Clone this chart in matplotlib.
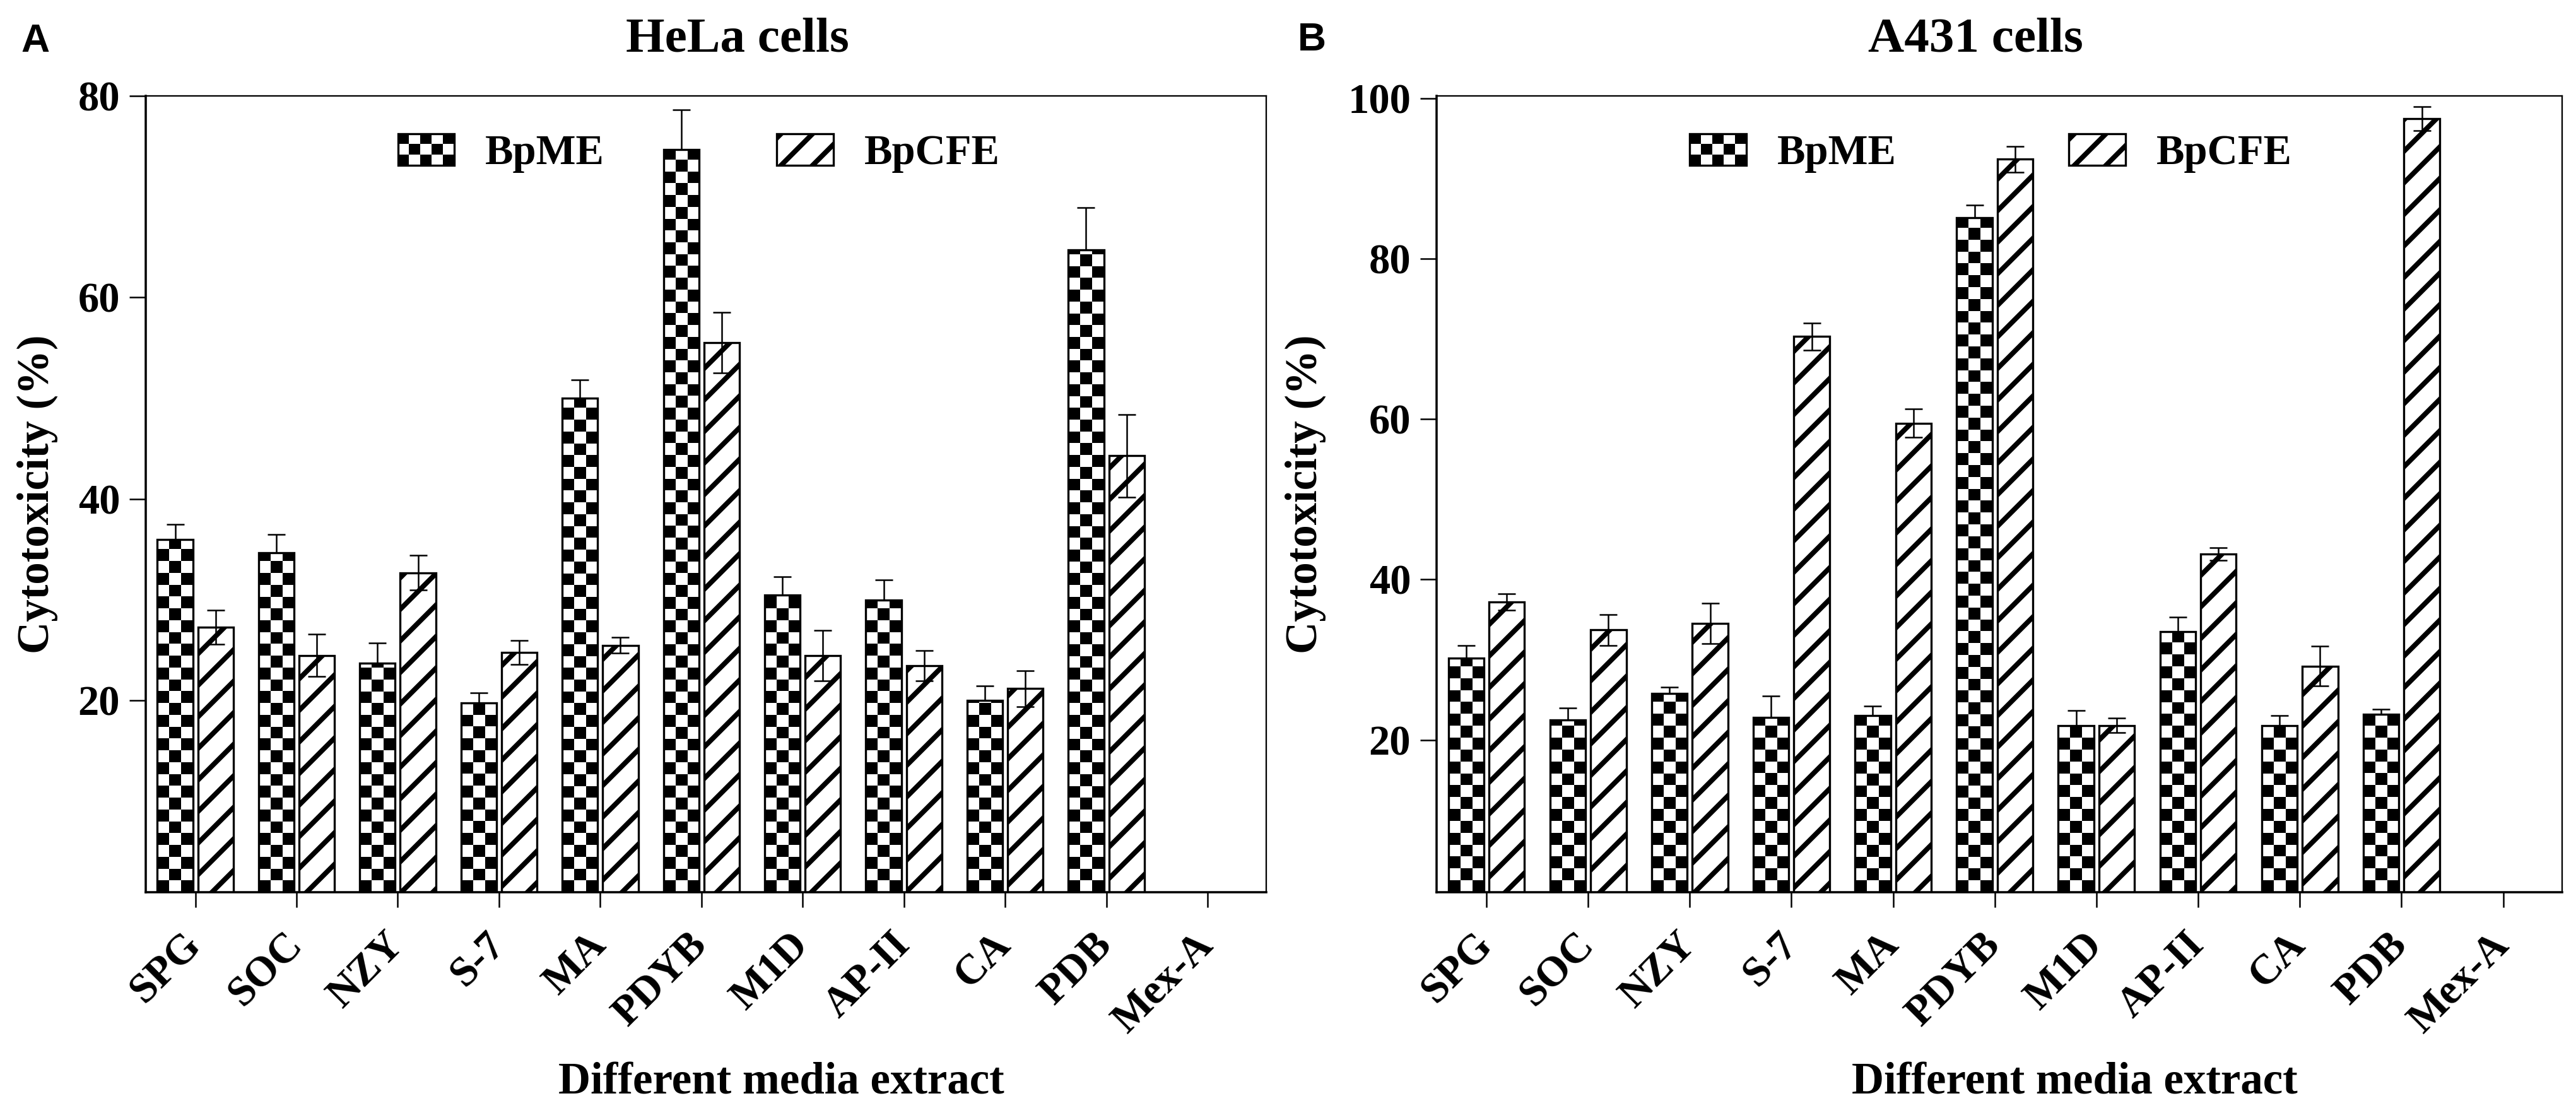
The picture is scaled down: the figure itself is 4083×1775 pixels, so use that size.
import numpy as np
import matplotlib
matplotlib.use("Agg")
import matplotlib.pyplot as plt
import matplotlib.patches as mpatches
from matplotlib.legend_handler import HandlerBase
from matplotlib.font_manager import FontProperties

# ---------------- data ----------------
categories = ['SPG', 'SOC', 'NZY', 'S-7', 'MA', 'PDYB', 'M1D', 'AP-II', 'CA', 'PDB', 'Mex-A']
series_names = ['BpME', 'BpCFE']

hela_bpme = [36.0, 34.7, 23.7, 19.8, 50.0, 74.7, 30.5, 30.0, 20.0, 64.7, np.nan]
hela_bpme_err = [1.5, 1.8, 2.0, 1.0, 1.8, 3.9, 1.8, 2.0, 1.5, 4.2, np.nan]
hela_bpcfe = [27.3, 24.5, 32.7, 24.8, 25.5, 55.5, 24.5, 23.5, 21.2, 44.3, np.nan]
hela_bpcfe_err = [1.7, 2.1, 1.7, 1.2, 0.8, 3.0, 2.5, 1.5, 1.8, 4.1, np.nan]

a431_bpme = [30.2, 22.5, 25.8, 22.8, 23.0, 85.1, 21.8, 33.5, 21.8, 23.2, np.nan]
a431_bpme_err = [1.6, 1.5, 0.8, 2.7, 1.2, 1.6, 1.9, 1.8, 1.2, 0.6, np.nan]
a431_bpcfe = [37.2, 33.7, 34.5, 70.3, 59.5, 92.4, 21.8, 43.2, 29.2, 97.5, np.nan]
a431_bpcfe_err = [1.0, 1.9, 2.5, 1.7, 1.8, 1.6, 0.9, 0.8, 2.5, 1.5, np.nan]

hela_yticks = [20, 40, 60, 80]
a431_yticks = [20, 40, 60, 80, 100]

# ---------------- style ----------------
plt.rcParams['font.family'] = ['Liberation Serif', 'DejaVu Serif']
plt.rcParams['font.weight'] = 'bold'
plt.rcParams['hatch.linewidth'] = 1.9

W, H, DPI = 4083, 1775, 300
fig = plt.figure(figsize=(W / DPI, H / DPI), dpi=DPI)
fig.patch.set_facecolor('white')


class CheckerPatch(mpatches.Patch):
    pass


class CheckerHandler(HandlerBase):
    def create_artists(self, legend, orig_handle, xdescent, ydescent,
                       width, height, fontsize, trans):
        arts = []
        nx, ny = 5, 3
        w, h = width / nx, height / ny
        for i in range(nx):
            for j in range(ny):
                if (i + j) % 2 == 0:
                    arts.append(mpatches.Rectangle((-xdescent + i * w, -ydescent + j * h), w, h,
                                                   facecolor='black', edgecolor='none',
                                                   transform=trans))
        arts.append(mpatches.Rectangle((-xdescent, -ydescent), width, height,
                                       facecolor='none', edgecolor='black', lw=0.8,
                                       transform=trans))
        return arts


def panel(rect, title, title_x, me, me_err, cfe, cfe_err, yticks, ylim, ylab_x):
    ax = fig.add_axes(rect)
    x = np.arange(len(categories))
    bw = 0.35
    off = 0.2
    xlim = (-0.49, 10.58)

    me = np.asarray(me, float)
    cfe = np.asarray(cfe, float)
    me_err = np.asarray(me_err, float)
    cfe_err = np.asarray(cfe_err, float)

    bars_me = ax.bar(x - off, me, bw, facecolor='none', edgecolor='black', lw=0.8, zorder=2)
    ax.bar(x + off, cfe, bw, facecolor='white', edgecolor='black', lw=0.8,
           hatch='//', zorder=2)

    # checkerboard fill for BpME bars
    ax_w_px = rect[2] * W
    ax_h_px = rect[3] * H
    for r in bars_me.patches:
        hgt = r.get_height()
        if not np.isfinite(hgt):
            continue
        x0, w = r.get_x(), r.get_width()
        w_px = w / (xlim[1] - xlim[0]) * ax_w_px
        ncols = 3
        sq_px = w_px / ncols
        sq_h = (ylim[1] - ylim[0]) * sq_px / ax_h_px
        nrows = int(np.ceil((hgt - ylim[0]) / sq_h)) + 1
        arr = np.indices((nrows, ncols)).sum(0) % 2
        im = ax.imshow(arr, cmap='gray', vmin=0, vmax=1, origin='lower',
                       extent=(x0, x0 + w, ylim[0], ylim[0] + nrows * sq_h),
                       interpolation='nearest', aspect='auto', zorder=1.5)
        im.set_clip_path(r)

    ax.errorbar(x - off, me, yerr=[np.zeros_like(me_err), me_err], fmt='none',
                ecolor='black', elinewidth=0.6, capsize=3.3, capthick=0.6, zorder=4)
    ax.errorbar(x + off, cfe, yerr=[cfe_err, cfe_err], fmt='none',
                ecolor='black', elinewidth=0.6, capsize=3.3, capthick=0.6, zorder=4)

    ax.set_xlim(*xlim)
    ax.set_ylim(*ylim)
    ax.set_aspect('auto')

    for s in ['left', 'bottom']:
        ax.spines[s].set_linewidth(0.85)
    for s in ['top', 'right']:
        ax.spines[s].set_linewidth(0.55)

    ax.set_yticks(yticks)
    ax.set_yticklabels([str(t) for t in yticks])
    ax.tick_params(axis='y', length=6.2, width=0.6, pad=3.6, labelsize=16)
    ax.set_xticks(x)
    ax.set_xticklabels(categories, rotation=45, ha='right', va='center',
                       rotation_mode='anchor')
    ax.tick_params(axis='x', length=5.8, width=0.6, pad=12, labelsize=16)

    ax.set_ylabel('Cytotoxicity (%)', fontsize=17, fontweight='bold')
    ax.yaxis.set_label_coords(ylab_x, 0.5)
    ax.text(0.567, -0.2528, 'Different media extract', transform=ax.transAxes,
            ha='center', va='baseline', fontsize=17, fontweight='bold')
    ax.text(title_x, 1.0555, title, transform=ax.transAxes, ha='center',
            va='baseline', fontsize=19, fontweight='bold')

    h1 = CheckerPatch(facecolor='white', edgecolor='black')
    h2 = mpatches.Patch(facecolor='white', edgecolor='black', hatch='//', lw=0.8)
    ax.legend([h1, h2], series_names, handler_map={CheckerPatch: CheckerHandler()},
              ncol=2, loc='center left', bbox_to_anchor=(0.225, 0.928),
              frameon=False, borderpad=0, borderaxespad=0,
              handlelength=1.34, handleheight=0.78, handletextpad=0.74,
              columnspacing=4.1,
              prop=FontProperties(family='Liberation Serif', weight='bold', size=16))
    return ax


axA = panel([231 / W, 1 - 1414 / H, 1776 / W, 1262 / H], 'HeLa cells', 0.528,
            hela_bpme, hela_bpme_err, hela_bpcfe, hela_bpcfe_err,
            hela_yticks, (1, 80), -0.078)
axB = panel([2277 / W, 1 - 1414 / H, 1784 / W, 1262 / H], 'A431 cells', 0.479,
            a431_bpme, a431_bpme_err, a431_bpcfe, a431_bpcfe_err,
            a431_yticks, (1, 100.3), -0.098)

fig.text(33 / W, 1 - 82 / H, 'A', family=['Liberation Sans', 'DejaVu Sans'],
         fontweight='bold', fontsize=15, ha='left', va='baseline')
fig.text(2057 / W, 1 - 80 / H, 'B', family=['Liberation Sans', 'DejaVu Sans'],
         fontweight='bold', fontsize=15, ha='left', va='baseline')

fig.savefig('out.png', dpi=DPI, facecolor='white')
